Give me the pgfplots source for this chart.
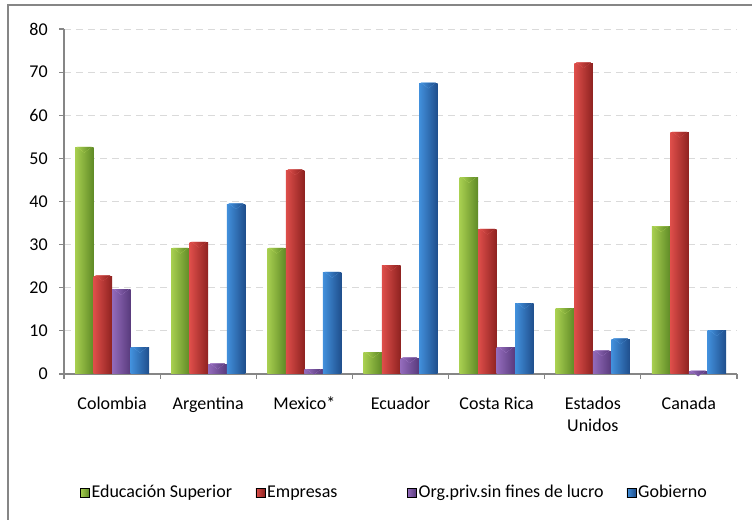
\documentclass[border=0pt]{standalone}
\usepackage{fontspec}
\setmainfont{Carlito}
\usepackage{pgfplots}
\usepackage{pgfplotstable}
\pgfplotsset{compat=1.18}

% bar palette: light edge, body, dark edge, bevel highlight
\definecolor{gL}{HTML}{A8CF50}\definecolor{gM}{HTML}{8DB63C}\definecolor{gD}{HTML}{5F8A26}\definecolor{gT}{HTML}{D6EF72}
\definecolor{rL}{HTML}{DE4E4A}\definecolor{rM}{HTML}{C83A36}\definecolor{rD}{HTML}{8E2220}\definecolor{rT}{HTML}{F27470}
\definecolor{pL}{HTML}{936BBB}\definecolor{pM}{HTML}{7E55A4}\definecolor{pD}{HTML}{583A7C}\definecolor{pT}{HTML}{C9A0EC}
\definecolor{bL}{HTML}{4290DC}\definecolor{bM}{HTML}{2E74C2}\definecolor{bD}{HTML}{1F4E8C}\definecolor{bT}{HTML}{74B8F6}
\definecolor{axgray}{HTML}{868686}
\definecolor{gridgray}{HTML}{DADADA}

% share of R&D spending by sector (%), countries 0..6
\pgfplotstableread{
x y
0 52.5
1 29.1
2 29.1
3 4.9
4 45.5
5 15.1
6 34.1
}\edu
\pgfplotstableread{
x y
0 22.7
1 30.5
2 47.3
3 25.1
4 33.5
5 72.1
6 56.0
}\emp
\pgfplotstableread{
x y
0 19.5
1 2.3
2 1.0
3 3.7
4 6.1
5 5.3
6 0.6
}\org
\pgfplotstableread{
x y
0 6.1
1 39.4
2 23.5
3 67.4
4 16.3
5 8.1
6 10.0
}\gob

% one shaded bar with a bevel triangle at its top
\pgfplotsset{
  bevelbar/.style n args={5}{
    ybar, bar width=13.9pt, bar shift=#1, draw=none,
    left color=#2, middle color=#3, right color=#4,
    nodes near coords={\tikz{\useasboundingbox (-5.6pt,0pt) rectangle (5.6pt,0pt);
      \fill[#5, xshift=#1] (-5.6pt,0pt) -- (5.6pt,0pt) -- (0pt,-4.2pt) -- cycle;}},
    every node near coord/.append style={inner sep=0pt, outer sep=0pt},
  },
  sqimg/.style n args={2}{legend image code/.code={
    \shade[left color=#1, right color=#2] (0pt,-3.4pt) rectangle (6.75pt,3.4pt);}},
}

\begin{document}
\fontsize{13.5pt}{16.5pt}\selectfont
\begin{tikzpicture}
\useasboundingbox (0,0) rectangle (564pt,390pt);
% chart frame
\draw[axgray, line width=0.8pt] (6pt,0pt) -- (6pt,386.25pt) -- (564pt,386.25pt);

\begin{axis}[
  at={(48pt,109.5pt)}, anchor=south west,
  scale only axis, width=504.75pt, height=258.75pt,
  xmin=-0.5, xmax=6.5, ymin=0, ymax=80,
  xtick={0,...,6},
  xticklabels={Colombia,Argentina,Mexico*,Ecuador,Costa Rica,{Estados\\Unidos},Canada},
  xticklabel style={align=center, font=\fontsize{13.5pt}{16.5pt}\selectfont, yshift=-9pt},
  major x tick style={draw=none},
  minor xtick={-0.5,0.5,...,6.5},
  minor tick length=3.5pt,
  ytick={0,10,...,80},
  yticklabel style={font=\fontsize{13.5pt}{16.5pt}\selectfont, xshift=-4pt},
  /pgf/number format/assume math mode=true,
  major tick length=3.5pt,
  tick align=outside,
  tick style={axgray, line width=0.8pt},
  axis x line*=bottom, axis y line*=left,
  axis line style={axgray, line width=0.8pt, -},
  ymajorgrids,
  major grid style={gridgray, dash pattern=on 5.5pt off 3.5pt, line width=0.6pt},
  legend columns=4,
  legend style={at={(0.0238,-0.345)}, anchor=west, draw=none, fill=none,
    inner sep=0pt, outer sep=0pt, column sep=0pt,
    nodes={inner xsep=1.5pt, inner ysep=1pt, anchor=west},
    font=\fontsize{13.5pt}{16.5pt}\selectfont},
]
\pgfplotsinvokeforeach{0,...,6}{
  \addplot[bevelbar={-20.85pt}{gL}{gM}{gD}{gT}, forget plot,
    x filter/.expression={abs(x-#1)<0.1 ? x : nan}] table {\edu};
  \addplot[bevelbar={-6.95pt}{rL}{rM}{rD}{rT}, forget plot,
    x filter/.expression={abs(x-#1)<0.1 ? x : nan}] table {\emp};
  \addplot[bevelbar={6.95pt}{pL}{pM}{pD}{pT}, forget plot,
    x filter/.expression={abs(x-#1)<0.1 ? x : nan}] table {\org};
  \addplot[bevelbar={20.85pt}{bL}{bM}{bD}{bT}, forget plot,
    x filter/.expression={abs(x-#1)<0.1 ? x : nan}] table {\gob};
}
\addlegendimage{sqimg={gL}{gD}}
\addlegendentry{\makebox[121.5pt][l]{Educación Superior}}
\addlegendimage{sqimg={rL}{rD}}
\addlegendentry{\makebox[103.5pt][l]{Empresas}}
\addlegendimage{sqimg={pL}{pD}}
\addlegendentry{\makebox[154.5pt][l]{Org.priv.sin fines de lucro}}
\addlegendimage{sqimg={bL}{bD}}
\addlegendentry{Gobierno}
\end{axis}
\end{tikzpicture}
\end{document}
